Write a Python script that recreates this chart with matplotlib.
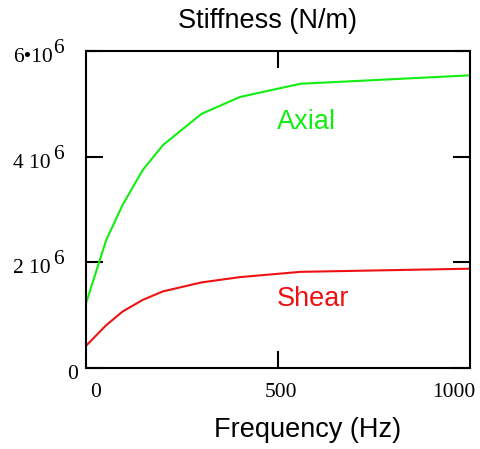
import matplotlib
matplotlib.use("Agg")
import matplotlib.pyplot as plot
import matplotlib.transforms as transforms

# frequency (Hz) and stiffness (N/m)
freq = [-25, 30, 75, 130, 185, 290, 395, 560, 1025]
axial = [1.225e6, 2.42e6, 3.09e6, 3.75e6, 4.22e6, 4.81e6, 5.13e6, 5.38e6, 5.54e6]
shear = [0.42e6, 0.81e6, 1.07e6, 1.29e6, 1.45e6, 1.62e6, 1.72e6, 1.82e6, 1.88e6]

yticks = [0, 2e6, 4e6, 6e6]
ytick_base = ["0", "2 10", "4 10", "6\u202210"]
ytick_exp = ["", "6", "6", "6"]
xticks = [0, 500, 1000]
xtick_labels = ["0", "500", "1000"]

green = "#11ee11"
red = "#ee1111"
sans = "Liberation Sans"
serif = "Liberation Serif"
tick_size = 15.5

fig = plot.figure(figsize=(4.8, 4.49), dpi=100)
axis = fig.add_axes([0.1792, 0.1804, 0.8010, 0.7060])

axis.plot(freq, axial, color=green, linewidth=1.5)
axis.plot(freq, shear, color=red, linewidth=1.5)
axis.set_xlim(-25, 1024)
axis.set_ylim(0, 6e6)

for side in axis.spines.values():
    side.set_linewidth(1.5)

# y ticks on both sides, labels drawn by hand
axis.set_yticks(yticks)
axis.set_yticklabels([])
axis.tick_params(axis="y", direction="in", length=12.5, width=1.5, left=True, right=True)
for val, base, exp in zip(yticks, ytick_base, ytick_exp):
    axis.annotate(base, xy=(0, val), xycoords=axis.get_yaxis_transform(),
                  xytext=(-73 if base != "0" else -19, -11), textcoords="offset pixels",
                  ha="left", va="baseline", fontsize=tick_size, family=serif)
    if exp:
        axis.annotate(exp, xy=(0, val), xycoords=axis.get_yaxis_transform(),
                      xytext=(-22, -2), textcoords="offset pixels",
                      ha="right", va="baseline", fontsize=tick_size, family=serif)

# x ticks only drawn at 500, top and bottom
axis.set_xticks(xticks)
axis.set_xticklabels(xtick_labels, fontsize=tick_size, family=serif)
axis.tick_params(axis="x", direction="in", length=12, width=1.5, top=True, bottom=True, pad=11)
for i, tick in enumerate(axis.xaxis.get_major_ticks()):
    if i != 1:
        tick.tick1line.set_visible(False)
        tick.tick2line.set_visible(False)
labels = axis.get_xticklabels()
labels[1].set_transform(labels[1].get_transform() + transforms.ScaledTranslation(2.5 / 100, 0, fig.dpi_scale_trans))
labels[2].set_transform(labels[2].get_transform() + transforms.ScaledTranslation(-8 / 100, 0, fig.dpi_scale_trans))

axis.text(496, 4.52e6, "Axial", color=green, fontsize=19.5, family=sans, ha="left", va="baseline")
axis.text(496, 1.18e6, "Shear", color=red, fontsize=19.5, family=sans, ha="left", va="baseline")

fig.text(0.557, 0.9383, "Stiffness (N/m)", fontsize=19.5, family=sans, ha="center", va="baseline")
fig.text(0.640, 0.026, "Frequency (Hz)", fontsize=19.5, family=sans, ha="center", va="baseline")

fig.savefig("out.png", dpi=100)
